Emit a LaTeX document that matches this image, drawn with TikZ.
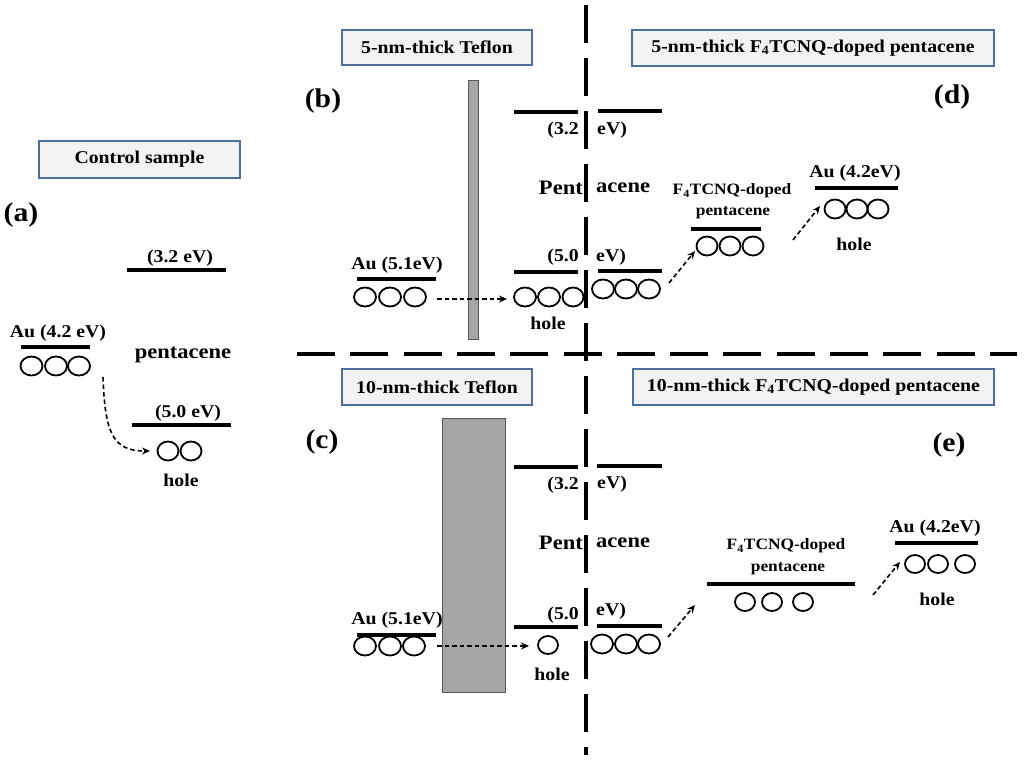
\documentclass[tikz,border=0pt]{standalone}
\usepackage{fontspec}
\setmainfont{Liberation Serif}[FakeStretch=1.1]
\usetikzlibrary{shapes.geometric,arrows.meta}
\definecolor{boxfill}{HTML}{F2F2F2}
\definecolor{boxline}{HTML}{4F6E9E}
\definecolor{barfill}{HTML}{A6A6A6}
\definecolor{barline}{HTML}{595959}
\begin{document}
\begin{tikzpicture}[x=1pt,y=-1pt,
  every node/.style={inner sep=0pt},
  title/.style={draw=boxline, fill=boxfill, line width=1.3pt, font=\fontsize{18}{20}\selectfont\bfseries},
  lab/.style={font=\fontsize{18}{20}\selectfont\bfseries},
  pent/.style={font=\fontsize{20.5}{22}\selectfont\bfseries},
  small/.style={font=\fontsize{15.8}{18}\selectfont\bfseries},
  panel/.style={font=\fontsize{27}{30}\selectfont\bfseries},
  hc/.style={ellipse, draw, line width=1.8pt, minimum width=22pt, minimum height=19pt},
  hcs/.style={ellipse, draw, line width=1.8pt, minimum width=20pt, minimum height=18pt},
  lvl/.style={line width=3.2pt},
  bar/.style={draw=barline, fill=barfill, line width=1pt},
  darr/.style={line width=1.6pt, dash pattern=on 4.5pt off 3pt, -{Stealth[length=8pt,width=7pt]}},
  divider/.style={line width=4.5pt, line cap=butt}
]
\useasboundingbox (0,0) rectangle (1024,763);

% ---------- dividers ----------
\draw[divider, dash pattern=on 38pt off 15.3pt] (297,354) -- (1017,354);
\draw[divider, dash pattern=on 38pt off 15pt] (586,5) -- (586,755);

% ---------- titles ----------
\node[title, minimum width=201pt, minimum height=37pt] (tA) at (139.5,159.5) {Control sample};
\node[title, minimum width=190pt, minimum height=35pt] (tB) at (437,47.5) {5-nm-thick Teflon};
\node[title, minimum width=362pt, minimum height=36pt] (tD) at (813,48) {5-nm-thick F\textsubscript{4}TCNQ-doped pentacene};
\node[title, minimum width=190pt, minimum height=36pt] (tC) at (437,387) {10-nm-thick Teflon};
\node[title, minimum width=361pt, minimum height=36pt] (tE) at (813.5,387) {10-nm-thick F\textsubscript{4}TCNQ-doped pentacene};

% ---------- panel letters ----------
\node[panel] (la) at (21,215) {(a)};
\node[panel] (lb) at (323,101) {(b)};
\node[panel] (lc) at (322,442) {(c)};
\node[panel] (ld) at (952,97) {(d)};
\node[panel] (le) at (949,445) {(e)};

% ================= (a) =================
\node[lab] (a32) at (180,258) {(3.2 eV)};
\draw[lvl] (127,270) -- (226,270);
\node[lab] (aAu) at (58,333) {Au (4.2 eV)};
\draw[lvl] (21,347) -- (90,347);
\node[hc] (aa1) at (31.5,366) {};
\node[hc] (aa2) at (56,366) {};
\node[hc] (aa3) at (79,366) {};
\node[pent] (apent) at (183,355) {pentacene};
\node[lab] (a50) at (188,413) {(5.0 eV)};
\draw[lvl] (132,425) -- (231,425);
\node[hc, minimum width=21pt] (ah1) at (168,451) {};
\node[hc, minimum width=21pt] (ah2) at (191,451) {};
\node[lab] (ahole) at (181,480) {hole};
\coordinate (as) at (103,377);
\coordinate (ae) at (150,451);
\draw[darr] (as) .. controls (105,432) and (112,451) .. (ae);

% ================= (b) =================
\draw[bar] (468,80) rectangle (478,339);
\node[lab] (bAu) at (397,265) {Au (5.1eV)};
\draw[lvl] (357,279) -- (436,279);
\node[hc] (ba1) at (365,297) {};
\node[hc] (ba2) at (390,297) {};
\node[hc] (ba3) at (415,297) {};
\draw[lvl] (514,112) -- (578,112);
\draw[lvl] (514,272) -- (578,272);
\node[lab, anchor=east] (b32) at (579,130) {(3.2};
\node[pent, anchor=east] (bpent) at (583,188) {Pent};
\node[lab, anchor=east] (b50) at (579,257) {(5.0};
\node[hc] (bh1) at (525,297) {};
\node[hc] (bh2) at (549,297) {};
\node[hc, minimum width=21pt] (bh3) at (573,297) {};
\node[lab] (bhole) at (548,323) {hole};
\coordinate (bs) at (437,299);
\coordinate (be) at (507,299);
\draw[darr] (bs) -- (be);

% ================= (d) =================
\draw[lvl] (598,111) -- (662,111);
\draw[lvl] (598,271) -- (662,271);
\node[lab, anchor=west] (d32) at (597,130) {eV)};
\node[pent, anchor=west] (dpent) at (596,188) {acene};
\node[lab, anchor=west] (d50) at (596,257) {eV)};
\node[hc] (dp1) at (603,289) {};
\node[hc] (dp2) at (626,289) {};
\node[hc] (dp3) at (649,289) {};
\coordinate (ds1) at (669,283);
\coordinate (de1) at (695,251);
\draw[darr] (ds1) -- (de1);
\node[small] (dF) at (732,191) {F\textsubscript{4}TCNQ-doped};
\node[small] (dFp) at (733,213) {pentacene};
\draw[lvl] (691,229) -- (761,229);
\node[hc, minimum width=21pt] (df1) at (707,246) {};
\node[hc, minimum width=21pt] (df2) at (730,246) {};
\node[hc, minimum width=21pt] (df3) at (753,246) {};
\coordinate (ds2) at (793,240);
\coordinate (de2) at (820,206);
\draw[darr] (ds2) -- (de2);
\node[lab] (dAu) at (855,173) {Au (4.2eV)};
\draw[lvl] (815,188) -- (898,188);
\node[hc, minimum width=21pt] (du1) at (835,209) {};
\node[hc, minimum width=21pt] (du2) at (857,209) {};
\node[hc, minimum width=21pt] (du3) at (878,209) {};
\node[lab] (dhole) at (854,244) {hole};

% ================= (c) =================
\draw[bar] (442,418) rectangle (505,692);
\node[lab] (cAu) at (397,620) {Au (5.1eV)};
\draw[lvl] (357,635) -- (436,635);
\node[hc] (ca1) at (365,646) {};
\node[hc] (ca2) at (390,646) {};
\node[hc] (ca3) at (414,646) {};
\draw[lvl] (514,467) -- (578,467);
\draw[lvl] (514,627) -- (578,627);
\node[lab, anchor=east] (c32) at (579,485) {(3.2};
\node[pent, anchor=east] (cpent) at (583,543) {Pent};
\node[lab, anchor=east] (c50) at (579,615) {(5.0};
\node[hcs] (ch1) at (548,645) {};
\node[lab] (chole) at (552,674) {hole};
\coordinate (cs) at (437,646);
\coordinate (ce) at (529,646);
\draw[darr] (cs) -- (ce);

% ================= (e) =================
\draw[lvl] (597,466) -- (662,466);
\draw[lvl] (597,626) -- (662,626);
\node[lab, anchor=west] (e32) at (597,484) {eV)};
\node[pent, anchor=west] (epent) at (596,543) {acene};
\node[lab, anchor=west] (e50) at (596,611) {eV)};
\node[hc] (ep1) at (602,644) {};
\node[hc] (ep2) at (626,644) {};
\node[hc] (ep3) at (649,644) {};
\coordinate (es1) at (668,637);
\coordinate (ee1) at (695,605);
\draw[darr] (es1) -- (ee1);
\node[small] (eF) at (786,546) {F\textsubscript{4}TCNQ-doped};
\node[small] (eFp) at (788,569) {pentacene};
\draw[lvl] (707,584) -- (855,584);
\node[hcs] (ef1) at (745,602) {};
\node[hcs] (ef2) at (772,602) {};
\node[hcs] (ef3) at (803,602) {};
\coordinate (es2) at (873,595);
\coordinate (ee2) at (900,562);
\draw[darr] (es2) -- (ee2);
\node[lab] (eAu) at (935,528) {Au (4.2eV)};
\draw[lvl] (895,543) -- (978,543);
\node[hcs] (eu1) at (915,564) {};
\node[hcs] (eu2) at (938,564) {};
\node[hcs] (eu3) at (965,564) {};
\node[lab] (ehole) at (937,599) {hole};
\end{tikzpicture}
\end{document}
